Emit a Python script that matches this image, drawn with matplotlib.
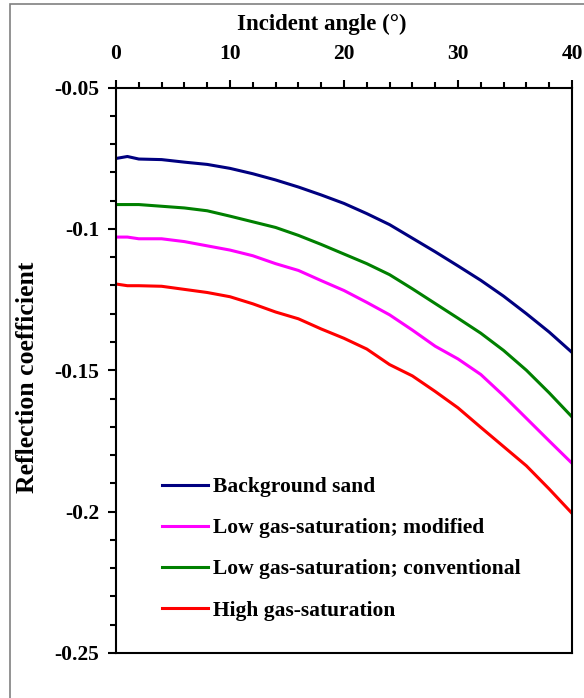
import matplotlib.pyplot as plt
from matplotlib.ticker import MultipleLocator
from matplotlib.patches import Rectangle

angles = [0, 1, 2, 4, 6, 8, 10, 12, 14, 16, 18, 20, 22, 24, 26, 28, 30, 32, 34, 36, 38, 40]

background = [-0.0751, -0.0744, -0.0753, -0.0755, -0.0764, -0.0772, -0.0786, -0.0805, -0.0827, -0.0852, -0.0880,
              -0.0910, -0.0946, -0.0985, -0.1033, -0.1081, -0.1131, -0.1182, -0.1238, -0.1300, -0.1365, -0.1437]
low_modified = [-0.1029, -0.1029, -0.1035, -0.1035, -0.1045, -0.1060, -0.1075, -0.1095, -0.1123, -0.1147, -0.1183,
                -0.1218, -0.1260, -0.1304, -0.1358, -0.1415, -0.1460, -0.1515, -0.1590, -0.1670, -0.1750, -0.1829]
low_conventional = [-0.0914, -0.0914, -0.0914, -0.0920, -0.0926, -0.0936, -0.0955, -0.0975, -0.0995, -0.1023, -0.1055,
                    -0.1089, -0.1123, -0.1162, -0.1212, -0.1264, -0.1316, -0.1369, -0.1430, -0.1500, -0.1580, -0.1665]
high_gas = [-0.1195, -0.1201, -0.1201, -0.1203, -0.1214, -0.1225, -0.1240, -0.1265, -0.1294, -0.1318, -0.1354,
            -0.1387, -0.1425, -0.1480, -0.1520, -0.1575, -0.1633, -0.1702, -0.1770, -0.1838, -0.1920, -0.2006]

labels = ['Background sand', 'Low gas-saturation; modified',
          'Low gas-saturation; conventional', 'High gas-saturation']
colors = ['#000080', '#FF00FF', '#008000', '#FF0000']

plt.rcParams['font.family'] = ['Liberation Serif', 'DejaVu Serif']
plt.rcParams['font.weight'] = 'bold'

W, H = 584, 698
fig = plt.figure(figsize=(W / 100, H / 100), dpi=100)
# grey frame round the figure, cut off on the right and bottom like the original
fig.patches.append(Rectangle((10 / W, 0 - 0.01), 1.0, 1 - 4 / H + 0.01, transform=fig.transFigure,
                             fill=False, edgecolor='#808080', linewidth=1.2))

ax = fig.add_axes([116 / W, 1 - 653 / H, (572 - 116) / W, (653 - 87.5) / H])

for series, lab, c in zip([background, low_modified, low_conventional, high_gas], labels, colors):
    ax.plot(angles, series, color=c, linewidth=2.2, label=lab)

ax.set_xlim(0, 40)
ax.set_ylim(-0.25, -0.05)
ax.xaxis.tick_top()
ax.xaxis.set_major_locator(MultipleLocator(10))
ax.xaxis.set_minor_locator(MultipleLocator(2))
ax.yaxis.set_minor_locator(MultipleLocator(0.01))
ax.set_yticks([-0.05, -0.1, -0.15, -0.2, -0.25])
ax.set_yticklabels(['-0.05', '-0.1', '-0.15', '-0.2', '-0.25'])
for s in ax.spines.values():
    s.set_linewidth(1.5)
ax.tick_params(axis='both', which='major', length=6, width=1.5, direction='out', labelsize=15.5)
ax.tick_params(axis='both', which='minor', length=4, width=1.5, direction='out')
ax.tick_params(axis='x', which='major', pad=11)
ax.tick_params(axis='y', which='major', pad=6)

fig.text(322 / W, 1 - 30 / H, 'Incident angle (°)', ha='center', va='baseline', fontsize=16.5, fontweight='bold')
fig.text(28 / W, 1 - 377 / H, 'Reflection coefficient', ha='center', va='center', rotation=90,
         fontsize=18.5, fontweight='bold')

ax.legend(loc='upper left', bbox_to_anchor=(162 / W, 1 - 477 / H), bbox_transform=fig.transFigure,
          frameon=False, fontsize=15.5, handlelength=2.12, handletextpad=0.27, labelspacing=0.98,
          borderpad=0, borderaxespad=0)

fig.savefig('out.png', dpi=100)
